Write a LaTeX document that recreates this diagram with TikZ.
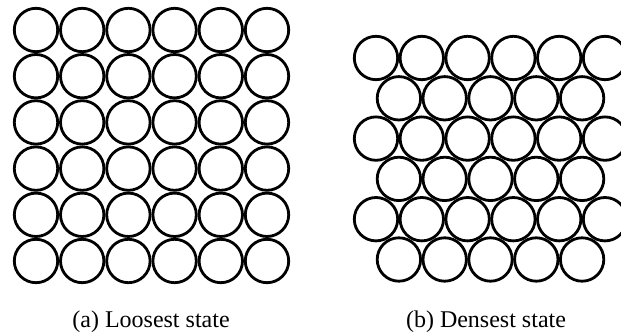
\documentclass[tikz,border=0pt]{standalone}
\usepackage{fontspec}
\setmainfont{Liberation Serif}
\begin{document}
\begin{tikzpicture}[x=1pt,y=-1pt,
  grain/.style={draw=black,line width=2.8pt,fill=none},
  caption/.style={font=\fontsize{24}{28}\selectfont,anchor=base,inner sep=0pt}]
\useasboundingbox (0,0) rectangle (621,336);
\begin{scope}
\clip (0,0) rectangle (621,336);
% (a) loosest state: square packing
\foreach \i in {0,...,5}
  \foreach \j in {0,...,5}
    \draw[grain] ({36+46.2*\i},{30+46.2*\j}) circle (21.7);
% (b) densest state: hexagonal packing
\foreach \r in {0,2,4}
  \foreach \i in {0,...,5}
    \draw[grain] ({376+45.8*\i},{58+40.3*\r}) circle (21.7);
\foreach \r in {1,3,5}
  \foreach \i in {0,...,4}
    \draw[grain] ({398.9+45.8*\i},{58+40.3*\r}) circle (21.7);
\end{scope}
\node[caption] (capa) at (151,328) {(a) Loosest state};
\node[caption] (capb) at (486,328) {(b) Densest state};
\end{tikzpicture}
\end{document}
